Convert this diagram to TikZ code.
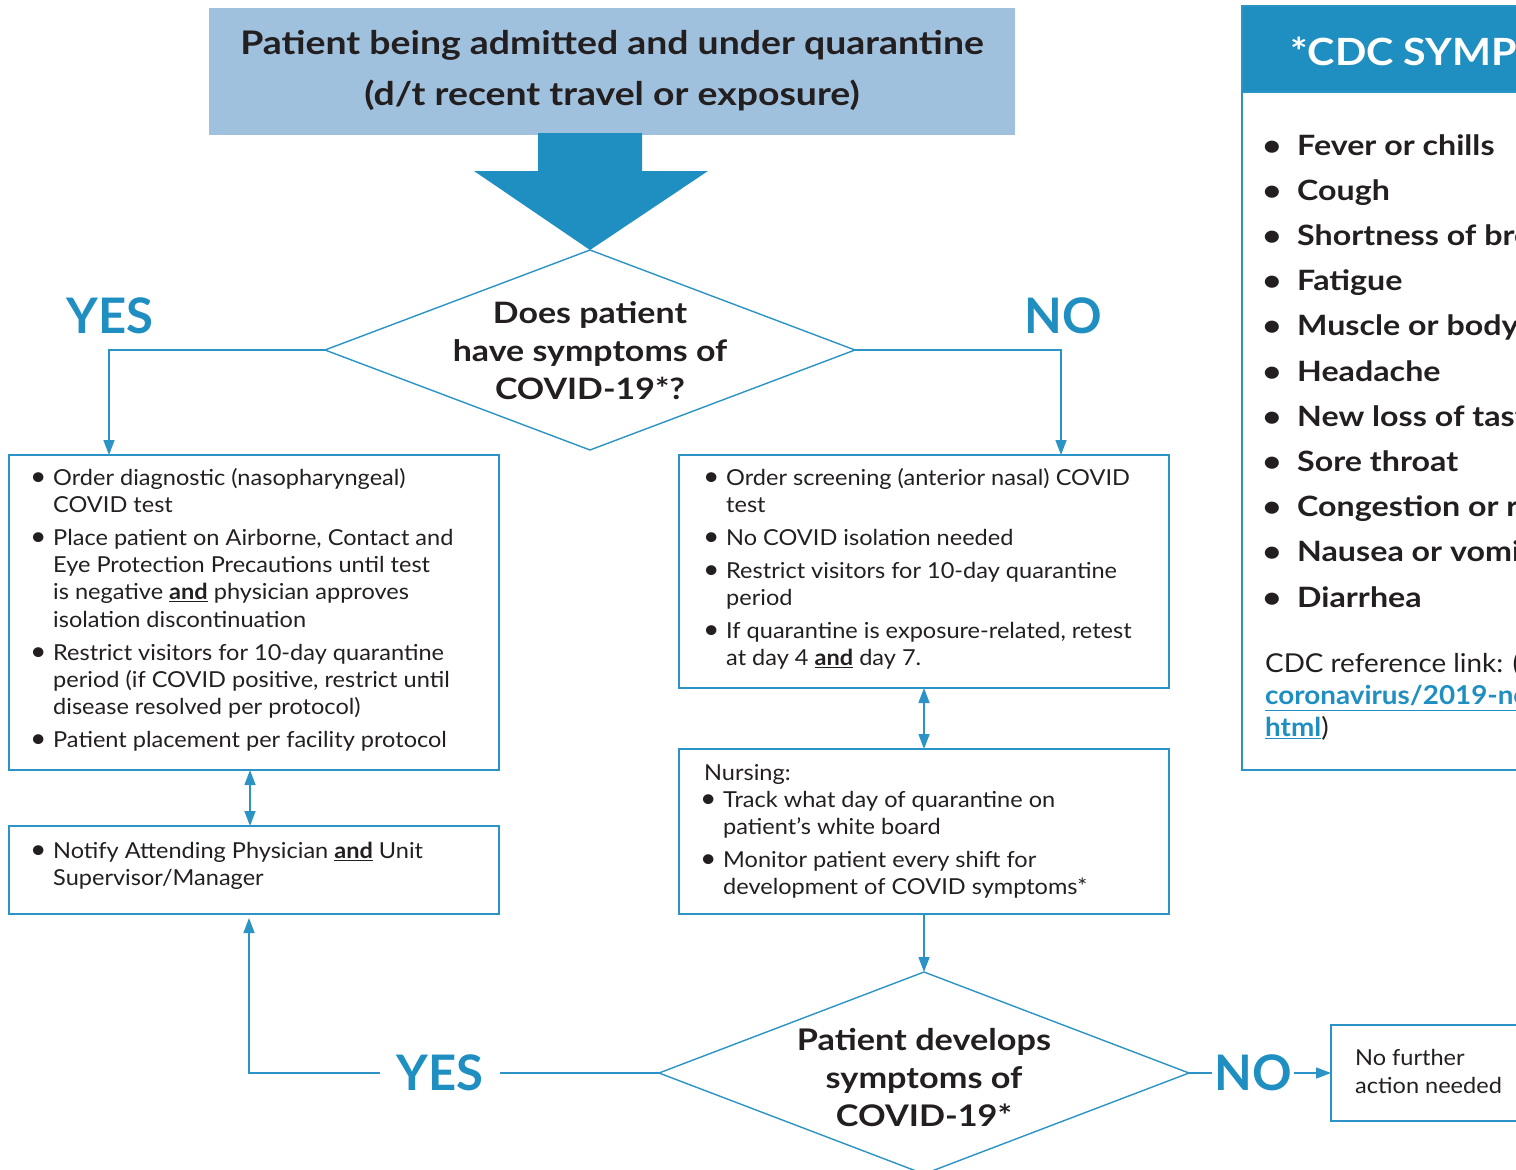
\documentclass[tikz,border=0pt]{standalone}
\usepackage{fontspec}
\usepackage{graphicx}
\setmainfont{Lato}[FakeStretch=1.07]
\newfontfamily\wide{Lato}[FakeStretch=1.15]
\newfontfamily\hdr{Lato}[FakeStretch=1.1]
\newfontfamily\plain{Lato}
\usetikzlibrary{shapes.geometric,arrows.meta}
\definecolor{cblue}{HTML}{1F8FC1}
\definecolor{lblue}{HTML}{2B93C5}
\definecolor{tfill}{HTML}{A0C1DE}
\definecolor{ink}{HTML}{231F20}
\newcommand\bul{\makebox[19pt][l]{\hspace*{-4pt}\raisebox{-0.3pt}{\scalebox{1.2}{\textbullet}}}}
\newcommand\ind{\hspace*{19pt}}
\newcommand\bigbul{\makebox[32pt][l]{\hspace*{-2.5pt}\textbullet}}
\newcommand\und[1]{\textbf{\underline{#1}}}
\newcommand\lnk[1]{{\color{cblue}\bfseries\underline{#1}}}
\begin{document}
\begin{tikzpicture}[x=1pt,y=-1pt,
  line/.style={draw=lblue,line width=1.4pt},
  arr/.style={line,-{Triangle[length=15pt,width=11pt]}},
  dblarr/.style={line,{Triangle[length=15pt,width=11pt]}-{Triangle[length=15pt,width=11pt]}},
  box/.style={draw=lblue,line width=1.4pt,inner sep=0pt,outer sep=0pt,rectangle},
  dia/.style={draw=lblue,line width=1.4pt,diamond,inner sep=0pt,outer sep=0pt},
  body/.style={anchor=north west,inner sep=0pt,align=left,text=ink,font=\fontsize{22}{27.3}\selectfont},
  dtext/.style={inner sep=0pt,align=center,text=ink,font=\wide\fontsize{29.5}{38}\selectfont\bfseries},
  yn/.style={inner sep=0pt,text=cblue,font=\plain\fontsize{49}{49}\selectfont\bfseries},
]
\useasboundingbox (0,0) rectangle (1516,1170);
\begin{scope}
\clip (0,0) rectangle (1516,1170);
% title
\node[fill=tfill,minimum width=806pt,minimum height=127pt,inner sep=0pt,align=center,text=ink,
  font=\wide\fontsize{32.5}{51}\selectfont\bfseries] (title) at (612,71)
  {Patient being admitted and under quarantine\\(d/t recent travel or exposure)};
% first decision
\node[dia,minimum width=530pt,minimum height=200pt] (d1) at (590,350) {};
\node[dtext] (d1t) at ([yshift=-1pt]d1.center) {Does patient\\have symptoms of\\COVID-19*?};
\fill[cblue] (d1.north) -- ++(-116,-79) -- ++(64,0) -- ++(0,-38) -- ++(104,0) -- ++(0,38) -- ++(66,0) -- cycle;
\node[yn] (yes1) at (110,316) {YES};
\node[yn] (no1) at (1063,316) {NO};
% boxes
\node[box,minimum width=490pt,minimum height=315pt] (lbox) at (254,612.5) {};
\node[box,minimum width=490pt,minimum height=233pt] (rbox) at (924,571.5) {};
\node[box,minimum width=490pt,minimum height=88pt] (nbox) at (254,870) {};
\node[box,minimum width=490pt,minimum height=165pt] (nurse) at (924,831.5) {};
\node[box,minimum width=199pt,minimum height=96pt] (fbox) at (1430.5,1073) {};
% box texts
\node[body] (ltext) at (34,468) {\bul Order diagnostic (nasopharyngeal)\\
\ind COVID test\\[5.5pt]
\bul Place patient on Airborne, Contact and\\
\ind Eye Protection Precautions until test\\
\ind is negative \und{and} physician approves\\
\ind isolation discontinuation\\[5.5pt]
\bul Restrict visitors for 10-day quarantine\\
\ind period (if COVID positive, restrict until\\
\ind disease resolved per protocol)\\[5.5pt]
\bul Patient placement per facility protocol};
\node[body] (rtext) at (707,468) {\bul Order screening (anterior nasal) COVID\\
\ind test\\[5.5pt]
\bul No COVID isolation needed\\[5.5pt]
\bul Restrict visitors for 10-day quarantine\\
\ind period\\[5.5pt]
\bul If quarantine is exposure-related, retest\\
\ind at day 4 \und{and} day 7.};
\node[body] (ntext) at (34,842) {\bul Notify Attending Physician \und{and} Unit\\
\ind Supervisor/Manager};
\node[body] (nutext) at (704,764) {Nursing:\\
\bul Track what day of quarantine on\\
\ind patient’s white board\\[5.5pt]
\bul Monitor patient every shift for\\
\ind development of COVID symptoms*};
\node[body,font=\fontsize{22}{28}\selectfont] (ftext) at (1355,1049) {No further\\action needed};
% second decision
\node[dia,minimum width=530pt,minimum height=202pt] (d2) at (924,1073) {};
\node[dtext,font=\wide\fontsize{29.8}{38}\selectfont\bfseries] (d2t) at ([yshift=-5pt]d2.center) {Patient develops\\symptoms of\\COVID-19*};
\node[yn,minimum width=120pt] (yes2) at (440,1073) {YES};
\node[yn,minimum width=82pt] (no2) at (1253,1073) {NO};
% connectors
\draw[arr] (d1.west) -| ([xshift=-145pt]lbox.north);
\draw[arr] (d1.east) -| ([xshift=137pt]rbox.north);
\draw[dblarr] ([xshift=-4pt]lbox.south) -- ([xshift=-4pt]nbox.north);
\draw[dblarr] (rbox.south) -- (nurse.north);
\draw[arr] (nurse.south) -- (d2.north);
\draw[line] (d2.west) -- (yes2.east);
\draw[arr] (yes2.west) -| ([xshift=-5pt,yshift=-4pt]nbox.south);
\draw[line] (d2.east) -- (no2.west);
\draw[arr] (no2.east) -- (fbox.west);
% CDC panel
\node[box,minimum width=290pt,minimum height=764pt] (cdc) at (1387,388) {};
\node[fill=cblue,draw=lblue,line width=1.4pt,inner sep=0pt,outer sep=0pt,minimum width=290pt,minimum height=86pt,anchor=north west] (cdchead) at (cdc.north west) {};
\node[anchor=west,inner sep=0pt,text=white,font=\hdr\fontsize{37.5}{37.5}\selectfont\bfseries] (cdct) at (1290,51.5) {*CDC SYMPTOMS};
\node[body,font=\wide\fontsize{28}{45.2}\selectfont\bfseries] (symp) at (1265,134) {\bigbul Fever or chills\\
\bigbul Cough\\
\bigbul Shortness of breath or difficulty breathing\\
\bigbul Fatigue\\
\bigbul Muscle or body aches\\
\bigbul Headache\\
\bigbul New loss of taste or smell\\
\bigbul Sore throat\\
\bigbul Congestion or runny nose\\
\bigbul Nausea or vomiting\\
\bigbul Diarrhea};
\node[body,font=\fontsize{26}{32}\selectfont] (ref) at (1265,652) {CDC reference link: (\lnk{https://www.cdc.gov/}\\
\lnk{coronavirus/2019-ncov/symptoms-testing/symptoms.}\\
\lnk{html})};
\end{scope}
\end{tikzpicture}
\end{document}
